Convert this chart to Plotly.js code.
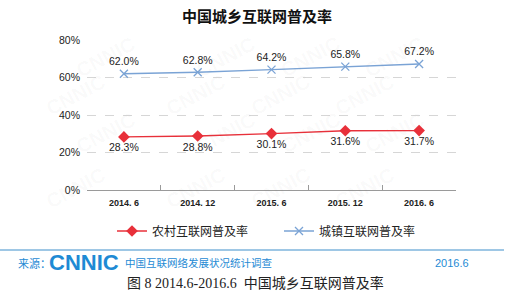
<!DOCTYPE html>
<html><head><meta charset="utf-8">
<script src="https://cdn.plot.ly/plotly-3.0.1.min.js"></script>
<style>html,body{margin:0;padding:0;background:#fff}#c{width:506px;height:293px}</style>
</head><body><div id="c"></div>
<script>
const categories = ["2014. 6", "2014. 12", "2015. 6", "2015. 12", "2016. 6"];
const ruralRate = [28.3, 28.8, 30.1, 31.6, 31.7];
const urbanRate = [62.0, 62.8, 64.2, 65.8, 67.2];
const ruralName = "农村互联网普及率";
const urbanName = "城镇互联网普及率";
const yTicks = [0, 20, 40, 60, 80];
const yTickText = ["0%", "20%", "40%", "60%", "80%"];

const cjk = "Liberation Sans, Noto Sans CJK SC, sans-serif";
const red = "#e8303a", blue = "#7aa3d5", srcBlue = "#1e8ad4";

const traces = [
  {x: categories, y: ruralRate, name: ruralName, type: "scatter", mode: "lines+markers+text",
   line: {color: red, width: 1.3}, marker: {symbol: "diamond", size: 9, color: red},
   text: ruralRate.map(v => v.toFixed(1) + "%"), textposition: "bottom center",
   textfont: {family: cjk, size: 10.5, color: "#222"}, cliponaxis: false},
  {x: categories, y: urbanRate, name: urbanName, type: "scatter", mode: "lines+markers+text",
   line: {color: blue, width: 1.3}, marker: {symbol: "x-thin", size: 8, color: blue, line: {color: blue, width: 1.3}},
   text: urbanRate.map(v => v.toFixed(1) + "%"), textposition: "top center",
   textfont: {family: cjk, size: 10.5, color: "#222"}, cliponaxis: false}
];

const L = 87, R = 456, T = 40, B = 190, W = 506, H = 293;
const px = x => (x - L) / (R - L);
const py = y => (B - y) / (B - T);

const ann = [
  {text: "来源：", x: px(16), y: py(263), xref: "paper", yref: "paper", xanchor: "left", yanchor: "middle", showarrow: false, font: {family: cjk, size: 11, color: srcBlue}},
  {text: "<b>CNNIC</b>", x: px(47), y: py(262), xref: "paper", yref: "paper", xanchor: "left", yanchor: "middle", showarrow: false, font: {family: "Liberation Sans, Arial", size: 22, color: srcBlue}},
  {text: "中国互联网络发展状况统计调查", x: px(123), y: py(263), xref: "paper", yref: "paper", xanchor: "left", yanchor: "middle", showarrow: false, font: {family: cjk, size: 10.5, color: srcBlue}},
  {text: "2016.6", x: px(471), y: py(263), xref: "paper", yref: "paper", xanchor: "right", yanchor: "middle", showarrow: false, font: {family: cjk, size: 11, color: srcBlue}},
  {text: "图 8 2014.6-2016.6  中国城乡互联网普及率", x: px(255), y: py(283), xref: "paper", yref: "paper", xanchor: "center", yanchor: "middle", showarrow: false, font: {family: "Liberation Serif, Noto Sans CJK SC, serif", size: 14, color: "#222"}}
];
// faint CNNIC watermarks (kept inside the frame)
const wmX = [70, 190, 310, 430];
const wmY = [30, 95, 160, 215];
wmY.forEach((wy, r) => wmX.forEach(wx => {
  ann.push({text: "CNNIC", x: px(wx + (r % 2 ? -30 : 0)), y: py(wy), xref: "paper", yref: "paper", showarrow: false, textangle: -28,
    font: {family: "Liberation Sans", size: 20, color: "rgba(120,120,120,0.04)", weight: "bold"}});
}));

const layout = {
  width: W, height: H, margin: {l: L, r: W - R, t: T, b: H - B},
  paper_bgcolor: "#fff", plot_bgcolor: "rgba(0,0,0,0)",
  title: {text: "<b>中国城乡互联网普及率</b>", x: 0.508, xanchor: "center", y: 1 - 17 / H, yanchor: "middle",
    font: {family: cjk, size: 15, color: "#111"}},
  xaxis: {type: "category", showline: true, linecolor: "#9a9a9a", linewidth: 1, ticks: "inside", tickson: "boundaries",
    ticklen: 5, tickcolor: "#9a9a9a", showgrid: false, zeroline: false, fixedrange: true, ticklabelstandoff: 4,
    tickfont: {family: cjk, size: 9, color: "#222", weight: "bold"}, range: [-0.5, 4.5]},
  yaxis: {range: [0, 80], tickvals: yTicks, ticktext: yTickText, showgrid: true, gridcolor: "#d6d6d6", griddash: "dash",
    zeroline: false, showline: false, ticks: "", ticklabelstandoff: 6,
    tickfont: {family: cjk, size: 10.5, color: "#222"}},
  showlegend: true,
  legend: {orientation: "h", x: px(112), xanchor: "left", y: py(231), yanchor: "middle", itemwidth: 30, entrywidth: 122,
    font: {family: cjk, size: 12, color: "#222"}, bgcolor: "rgba(0,0,0,0)"},
  shapes: [{type: "line", xref: "paper", yref: "paper", x0: px(0), x1: px(504), y0: py(250), y1: py(250),
    line: {color: "#3f8fcc", width: 1.2}}],
  annotations: ann
};
Plotly.newPlot("c", traces, layout, {displayModeBar: false, staticPlot: true});
</script></body></html>
